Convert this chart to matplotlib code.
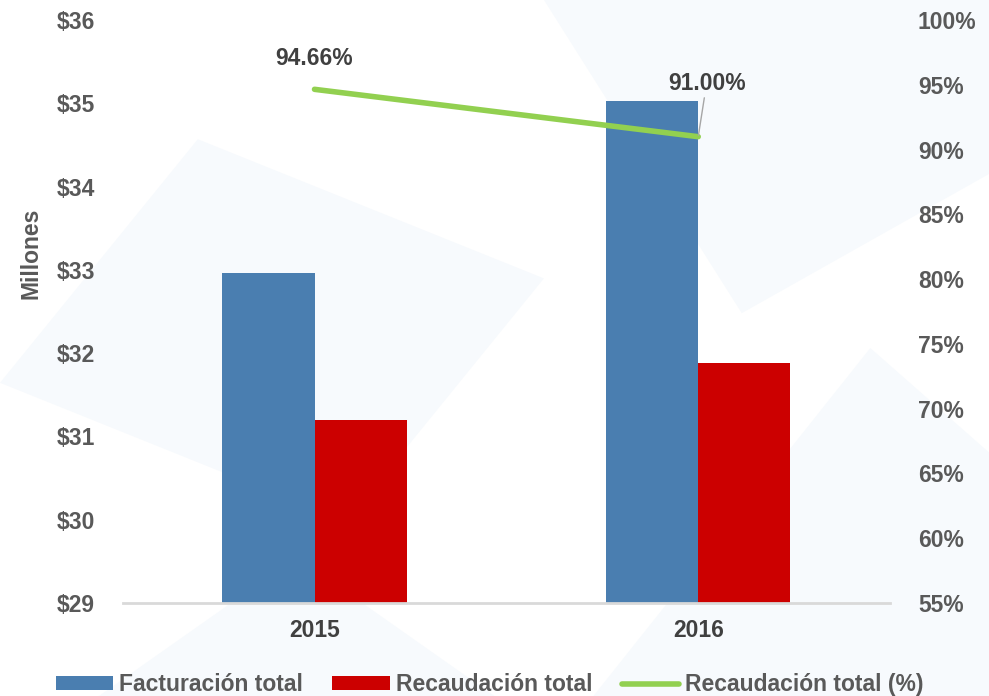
import numpy as np
import matplotlib
matplotlib.use("Agg")
import matplotlib.pyplot as plt
from matplotlib.patches import Polygon
from matplotlib.ticker import FuncFormatter

plt.rcParams['font.family'] = ['Liberation Sans', 'DejaVu Sans']
plt.rcParams['font.weight'] = 'bold'
plt.rcParams['axes.labelweight'] = 'bold'

years = ['2015', '2016']
facturacion = [32.96, 35.03]      # millones
recaudacion = [31.20, 31.88]      # millones
recaudacion_pct = [94.66, 91.00]  # %
pct_labels = ['94.66%', '91.00%']

blue = '#4a7eb0'
red = '#cc0000'
green = '#92d050'
txt = '#595959'
fs = 16.5

fig = plt.figure(figsize=(9.89, 6.96), dpi=100)

# faint background shapes, behind everything
bgax = fig.add_axes([0, 0, 1, 1], zorder=-10)
bgax.set_xlim(0, 1)
bgax.set_ylim(0, 1)
bgax.axis('off')
bg = [
    [(0.55, 1.0), (0.75, 0.55), (1.0, 0.75), (1.0, 1.0)],
    [(0.0, 0.45), (0.35, 0.25), (0.55, 0.6), (0.2, 0.8)],
    [(0.6, 0.0), (0.88, 0.5), (1.0, 0.35), (1.0, 0.0)],
    [(0.1, 0.0), (0.3, 0.2), (0.5, 0.0)],
]
for pts in bg:
    bgax.add_patch(Polygon(pts, closed=True, facecolor='#f7fafd', edgecolor='none'))

ax = fig.add_axes([0.124, 0.134, 0.776, 0.837])
ax.patch.set_alpha(0)
x = np.arange(len(years))
w = 0.24
b1 = ax.bar(x - w / 2, facturacion, w, color=blue, label='Facturación total', zorder=2)
b2 = ax.bar(x + w / 2, recaudacion, w, color=red, label='Recaudación total', zorder=2)
ax.set_ylim(29, 36)
ax.set_xlim(-0.5, 1.5)
ax.set_yticks(np.arange(29, 37, 1))
ax.yaxis.set_major_formatter(FuncFormatter(lambda v, p: f'${v:.0f}'))
ax.set_xticks(x)
ax.set_xticklabels(years)
for s in ['top', 'right', 'left']:
    ax.spines[s].set_visible(False)
ax.spines['bottom'].set_color('#d9d9d9')
ax.spines['bottom'].set_linewidth(2)
ax.tick_params(axis='y', length=0, labelsize=fs, labelcolor=txt, pad=20)
ax.tick_params(axis='x', length=0, labelsize=fs, labelcolor='#404040', pad=12)
for t in ax.get_yticklabels() + ax.get_xticklabels():
    t.set_fontweight('bold')
ax.set_ylabel('Millones', fontsize=fs, color=txt, fontweight='bold')
ax.yaxis.set_label_coords(-0.104, 0.6)

ax2 = ax.twinx()
ln, = ax2.plot(x, recaudacion_pct, color=green, lw=4, solid_capstyle='round',
               label='Recaudación total (%)', zorder=3)
ax2.set_ylim(55, 100)
ax2.set_yticks(np.arange(55, 101, 5))
ax2.yaxis.set_major_formatter(FuncFormatter(lambda v, p: f'{v:.0f}%'))
for s in ['top', 'right', 'left', 'bottom']:
    ax2.spines[s].set_visible(False)
ax2.tick_params(axis='y', length=0, labelsize=fs, labelcolor=txt, pad=20)
for t in ax2.get_yticklabels():
    t.set_fontweight('bold')

ax2.annotate(pct_labels[0], (x[0], recaudacion_pct[0]), xytext=(0, 14),
             textcoords='offset points', ha='center', va='bottom',
             fontsize=fs, color='#404040', fontweight='bold')
ax2.annotate(pct_labels[1], (x[1], recaudacion_pct[1]), xytext=(6, 30),
             textcoords='offset points', ha='center', va='bottom',
             fontsize=fs, color='#404040', fontweight='bold',
             arrowprops=dict(arrowstyle='-', color='#a6a6a6', lw=1, shrinkA=0, shrinkB=1))

leg = fig.legend(handles=[b1, b2, ln], loc='lower center', bbox_to_anchor=(0.495, -0.03),
                 ncol=3, frameon=False, handlelength=2.5, handleheight=0.55,
                 columnspacing=1.3, handletextpad=0.25, labelcolor=txt,
                 prop={'weight': 'bold', 'size': fs})

fig.savefig('out.png', dpi=100)
